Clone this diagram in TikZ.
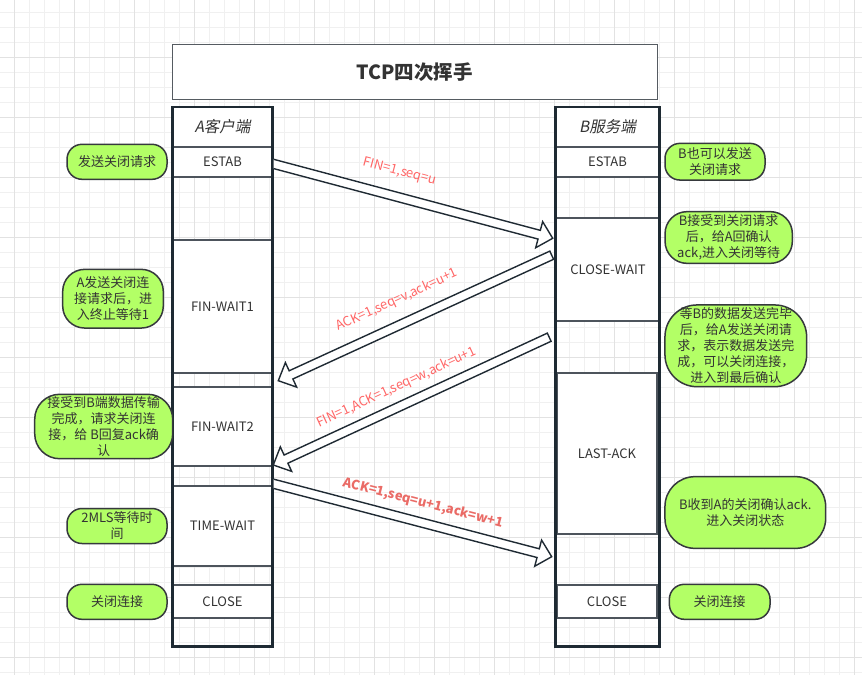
\documentclass[tikz,border=0pt]{standalone}
\usepackage{fontspec}
\setmainfont{Noto Sans CJK SC}
\newfontfamily\slantfont[FakeSlant=0.2]{Noto Sans CJK SC}
\usetikzlibrary{calc}
\definecolor{gridminor}{HTML}{F0F0F0}
\definecolor{gridmajor}{HTML}{E2E2E2}
\definecolor{outerc}{HTML}{1E2A33}
\definecolor{cellc}{HTML}{4D545C}
\definecolor{titlec}{HTML}{555B61}
\definecolor{txtc}{HTML}{333333}
\definecolor{notefill}{HTML}{B3FF66}
\definecolor{notedraw}{HTML}{36393D}
\definecolor{lblred}{HTML}{FF6666}
\definecolor{lblbold}{HTML}{EA6B66}
\definecolor{arrowc}{HTML}{1F2A33}
\tikzset{
  cellbox/.style={draw=cellc, fill=white, line width=1.3pt, inner sep=0pt, outer sep=0pt,
    text=txtc, font=\fontsize{13}{15}\selectfont},
  hdrbox/.style={cellbox, font=\slantfont\fontsize{15.5}{18}\selectfont},
  outerbox/.style={draw=outerc, line width=2.2pt},
  notebox/.style={draw=notedraw, fill=notefill, line width=1.5pt, inner sep=0pt, outer sep=0pt,
    align=center, text=txtc, font=\fontsize{13}{16}\selectfont},
  lbl/.style={text=lblred, inner sep=0pt, font=\fontsize{13}{15}\selectfont},
  lblb/.style={text=lblbold, inner sep=0pt, font=\bfseries\fontsize{13}{15}\selectfont},
  arrowbody/.style={draw=arrowc, fill=white, line width=1.4pt, line join=miter},
}
\newcommand\blockarrow[2]{%
  \path ($(#2)!14pt!(#1)$) coordinate (hb);
  \filldraw[arrowbody]
    ($(#1)!4.5pt!90:(#2)$) -- ($(hb)!4.5pt!90:(#2)$) -- ($(hb)!13.5pt!90:(#2)$)
    -- (#2) -- ($(hb)!13.5pt!-90:(#2)$) -- ($(hb)!4.5pt!-90:(#2)$)
    -- ($(#1)!4.5pt!-90:(#2)$) -- cycle;
}
\begin{document}
\begin{tikzpicture}[x=1pt,y=-1pt]
\useasboundingbox (0,0) rectangle (862,675);
\fill[white] (0,0) rectangle (862,675);
% grid
\foreach \i in {0,...,56} { \draw[gridminor, line width=1pt] ({14.3+15*\i},0) -- ({14.3+15*\i},675); }
\foreach \i in {0,...,44} { \draw[gridminor, line width=1pt] (0,{12.3+15*\i}) -- (862,{12.3+15*\i}); }
\foreach \i in {0,...,14} { \draw[gridmajor, line width=1pt] ({14.3+60*\i},0) -- ({14.3+60*\i},675); }
\foreach \i in {0,...,10} { \draw[gridmajor, line width=1pt] (0,{57.3+60*\i}) -- (862,{57.3+60*\i}); }

% title
\node[draw=titlec, line width=1.4pt, fill=white, minimum width=485pt, minimum height=55pt,
      inner sep=0pt, text=txtc, font=\bfseries\fontsize{19.5}{22}\selectfont] (title) at (414.8,71.8) {TCP四次挥手};

% left column cells
\node[hdrbox, minimum width=100pt, minimum height=40pt] (ahdr) at (222.5,127) {A客户端};
\node[cellbox, minimum width=100pt, minimum height=30pt] (aestab) at (222.5,162) {ESTAB};
\node[cellbox, minimum width=100pt, minimum height=133pt] (afw1) at (222.5,306.5) {FIN-WAIT1};
\node[cellbox, minimum width=100pt, minimum height=79pt] (afw2) at (222.5,426.5) {FIN-WAIT2};
\node[cellbox, minimum width=100pt, minimum height=80pt] (atw) at (222.5,526) {TIME-WAIT};
\node[cellbox, minimum width=100pt, minimum height=33pt] (aclose) at (222.5,601.5) {CLOSE};
\draw[outerbox] (172.5,107) rectangle (272.5,646.5);

% right column cells
\node[hdrbox, minimum width=104pt, minimum height=40pt] (bhdr) at (607.5,127) {B服务端};
\node[cellbox, minimum width=104pt, minimum height=30pt] (bestab) at (607.5,162) {ESTAB};
\node[cellbox, minimum width=103pt, minimum height=103pt] (bcw) at (608,269.5) {CLOSE-WAIT};
\node[cellbox, minimum width=100pt, minimum height=161pt] (bla) at (607,453.5) {LAST-ACK};
\node[cellbox, minimum width=100pt, minimum height=33pt] (bclose) at (607,601.5) {CLOSE};
\draw[outerbox] (555.5,107) rectangle (659.5,646.5);

% arrows
\coordinate (a1s) at (266,161.9);
\coordinate (a1e) at (552.7,238.3);
\coordinate (a2s) at (551.7,255.2);
\coordinate (a2e) at (278.3,380.7);
\coordinate (a3s) at (549.2,337.2);
\coordinate (a3e) at (273.3,465);
\coordinate (a4s) at (266,481.8);
\coordinate (a4e) at (551.7,556.7);
\begin{scope}
\clip (273.6,0) rectangle (862,675);
\blockarrow{a1s}{a1e}
\blockarrow{a4s}{a4e}
\end{scope}
\blockarrow{a2s}{a2e}
\blockarrow{a3s}{a3e}

% arrow labels
\node[lbl, rotate=-14.9] (l1) at (400,171.7) {FIN=1,seq=u};
\node[lbl, rotate=24.6] (l2) at (397,300) {ACK=1,seq=v,ack=u+1};
\node[lbl, rotate=24.8] (l3) at (396.7,387.5) {FIN=1,ACK=1,seq=w,ack=u+1};
\node[lblb, rotate=-14.6] (l4) at (423.3,503.3) {ACK=1,seq=u+1,ack=w+1};

% left notes
\node[notebox, rounded corners=15pt, minimum width=100pt, minimum height=35pt] (n1) at (117,161.8) {发送关闭请求};
\node[notebox, rounded corners=22pt, minimum width=100.6pt, minimum height=58.7pt] (n2) at (113,298.7) {A发送关闭连\\接请求后，进\\入终止等待1};
\node[notebox, rounded corners=25pt, minimum width=138pt, minimum height=64.4pt] (n3) at (103.7,426.5) {接受到B端数据传输\\完成，请求关闭连\\接，给 B回复ack确\\认};
\node[notebox, rounded corners=15pt, minimum width=100pt, minimum height=35pt] (n4) at (117,526) {2MLS等待时\\间};
\node[notebox, rounded corners=15pt, minimum width=100pt, minimum height=35pt] (n5) at (117,601.8) {关闭连接};

% right notes
\node[notebox, rounded corners=15pt, minimum width=100pt, minimum height=36.7pt] (r1) at (715,161.7) {B也可以发送\\关闭请求};
\node[notebox, rounded corners=22pt, minimum width=127.3pt, minimum height=51.7pt] (r2) at (728.7,237.5) {B接受到关闭请求\\后，给A回确认\\ack,进入关闭等待};
\node[notebox, rounded corners=32pt, minimum width=141.7pt, minimum height=81.7pt] (r3) at (735.8,345.8) {等B的数据发送完毕\\后，给A发送关闭请\\求，表示数据发送完\\成，可以关闭连接，\\进入到最后确认};
\node[notebox, rounded corners=30pt, minimum width=160.7pt, minimum height=71.7pt] (r4) at (745.3,512.5) {B收到A的关闭确认ack.\\进入关闭状态};
\node[notebox, rounded corners=15pt, minimum width=100.7pt, minimum height=35pt] (r5) at (719.7,601.8) {关闭连接};
\end{tikzpicture}
\end{document}
